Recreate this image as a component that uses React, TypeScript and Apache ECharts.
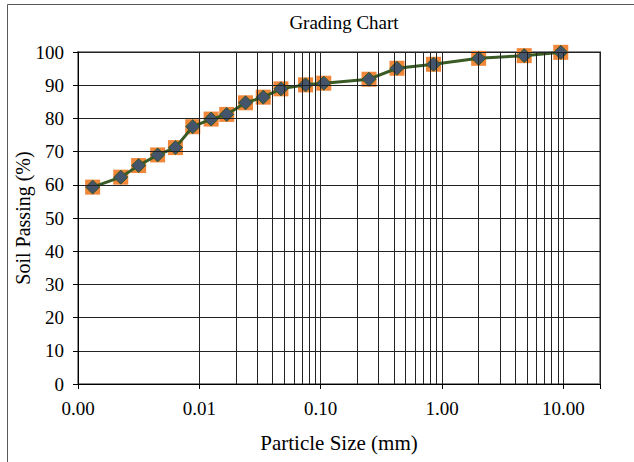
import React, { useEffect, useRef } from 'react';
import * as echarts from 'echarts';

// Particle size (mm) and percentage of soil passing
const sizesMm = [0.00132, 0.00225, 0.00316, 0.00453, 0.00635, 0.00882, 0.0125, 0.0168, 0.024, 0.0336, 0.047, 0.075, 0.106, 0.25, 0.425, 0.85, 2.0, 4.75, 9.5];
const passingPct = [59.3, 62.3, 65.8, 69.0, 71.2, 77.5, 79.8, 81.2, 84.7, 86.4, 88.9, 90.1, 90.6, 91.8, 95.1, 96.3, 98.1, 98.9, 99.9];

// Minor logarithmic grid lines (2..9 in each decade)
const minorGridSizes = [
  0.002, 0.003, 0.004, 0.005, 0.006, 0.007, 0.008, 0.009,
  0.02, 0.03, 0.04, 0.05, 0.06, 0.07, 0.08, 0.09,
  0.2, 0.3, 0.4, 0.5, 0.6, 0.7, 0.8, 0.9,
  2, 3, 4, 5, 6, 7, 8, 9,
];

const xMin = 0.001;
const xMax = 20;
const yMin = 0;
const yMax = 100;
const yInterval = 10;

const FONT = 'Liberation Serif';

export default function App() {
  const ref = useRef<HTMLDivElement>(null);

  useEffect(() => {
    if (!ref.current) return;
    const chart = echarts.init(ref.current, null, { renderer: 'svg' });
    const points = sizesMm.map((s, i) => [s, passingPct[i]]);

    chart.setOption({
      animation: false,
      backgroundColor: '#ffffff',
      title: {
        text: 'Grading Chart',
        left: 339,
        top: 8,
        textAlign: 'center',
        textStyle: { fontFamily: FONT, fontSize: 19, fontWeight: 'normal', color: '#000' },
      },
      graphic: [
        {
          type: 'rect',
          left: 5,
          top: 2,
          shape: { x: 0, y: 0, width: 1000, height: 1000 },
          style: { fill: 'none', stroke: '#595959', lineWidth: 1 },
          silent: true,
          z: -1,
        },
      ],
      grid: {
        left: 78,
        right: 34,
        top: 52,
        bottom: 78,
        containLabel: false,
        outerBoundsMode: 'none',
        show: true,
        borderColor: '#8c8c8c',
        borderWidth: 2,
        backgroundColor: 'transparent',
      },
      xAxis: {
        type: 'log',
        logBase: 10,
        min: xMin,
        max: xMax,
        name: 'Particle Size (mm)',
        nameLocation: 'middle',
        nameGap: 48,
        nameMoveOverlap: false,
        nameTextStyle: { fontFamily: FONT, fontSize: 21, color: '#000' },
        axisLine: { show: true, lineStyle: { color: '#000', width: 1 } },
        axisTick: { show: true, inside: false, length: 5, lineStyle: { color: '#000' } },
        axisLabel: {
          fontFamily: FONT,
          fontSize: 19,
          color: '#000',
          margin: 15,
          formatter: (v: number) => (v > 15 ? '' : Number(v).toFixed(2)),
        },
        splitLine: { show: true, lineStyle: { color: '#222', width: 1 } },
        z: 5,
      },
      yAxis: {
        type: 'value',
        min: yMin,
        max: yMax,
        interval: yInterval,
        name: 'Soil Passing (%)',
        nameLocation: 'middle',
        nameGap: 45,
        nameMoveOverlap: false,
        nameTextStyle: { fontFamily: FONT, fontSize: 20, color: '#000' },
        axisLine: { show: true, lineStyle: { color: '#000', width: 1 } },
        axisTick: { show: true, inside: false, length: 5, lineStyle: { color: '#000' } },
        axisLabel: { fontFamily: FONT, fontSize: 19, color: '#000', margin: 14 },
        splitLine: { show: true, lineStyle: { color: '#222', width: 1 } },
        z: 5,
      },
      series: [
        {
          type: 'line',
          data: [],
          z: 1,
          silent: true,
          markLine: {
            silent: true,
            symbol: ['none', 'none'],
            label: { show: false },
            lineStyle: { color: '#222', width: 1, type: 'solid' },
            emphasis: { disabled: true },
            data: minorGridSizes.map((v) => ({ xAxis: v })),
          },
        },
        {
          type: 'scatter',
          data: points,
          symbol: 'rect',
          symbolSize: 15,
          itemStyle: { color: '#F0873A', opacity: 1 },
          z: 3,
          silent: true,
        },
        {
          type: 'line',
          data: points,
          symbol: 'diamond',
          symbolSize: 14,
          showAllSymbol: true,
          lineStyle: { color: '#3B5B25', width: 3 },
          itemStyle: { color: '#44546A', borderColor: '#375623', borderWidth: 1 },
          z: 4,
          silent: true,
        },
      ],
    });

    return () => chart.dispose();
  }, []);

  return (
    <div
      ref={ref}
      style={{ position: 'fixed', left: 0, top: 0, width: 634, height: 462, background: '#fff' }}
    />
  );
}
